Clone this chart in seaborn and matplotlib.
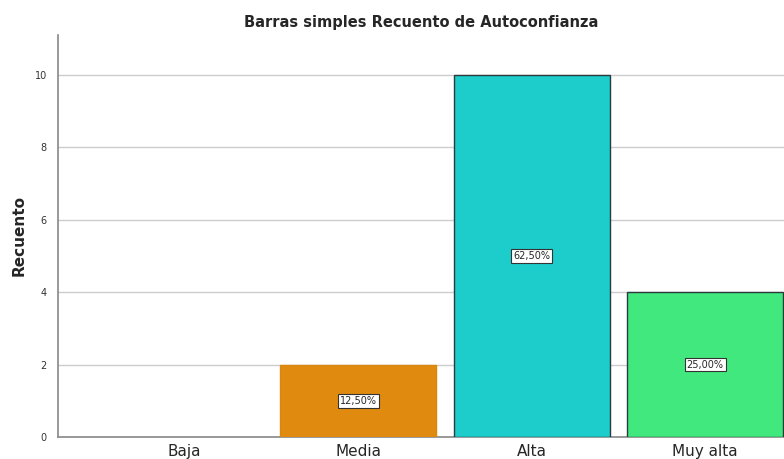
import matplotlib
matplotlib.use('Agg')
import matplotlib.pyplot as plt
import seaborn as sns
import pandas as pd

# -- data ----
categorias = ['Baja', 'Media', 'Alta', 'Muy alta']
recuento = [0, 2, 10, 4]
porcentajes = ['', '12,50%', '62,50%', '25,00%']
colores = ['#ffffff', '#e08b10', '#1ccdcb', '#41e87e']
bordes = ['#ffffff', '#d9870f', '#2b3a3a', '#2b3a3a']

df = pd.DataFrame({'cat': categorias, 'n': recuento})

sns.set_style('white')
plt.rcParams['font.family'] = ['DejaVu Sans']

fig = plt.figure(figsize=(7.84, 4.59), dpi=100)
ax = fig.add_axes([0.074, 0.048, 0.926, 0.876])

sns.barplot(data=df, x='cat', y='n', hue='cat', palette=colores, legend=False,
            width=0.9, saturation=1, ax=ax, zorder=3)
for p, ec, v in zip(ax.patches, bordes, recuento):
    p.set_edgecolor(ec)
    p.set_linewidth(1.0 if v > 0 else 0)

# -- percent labels ----
for i, (v, t) in enumerate(zip(recuento, porcentajes)):
    if t:
        ax.text(i, v / 2, t, ha='center', va='center', fontsize=7, zorder=5,
                bbox=dict(boxstyle='square,pad=0.2', fc='white', ec='#333333', lw=0.8))

ax.set_xlim(-0.73, 3.455)
ax.set_ylim(0, 11.1)
ax.set_yticks([0, 2, 4, 6, 8, 10])
ax.yaxis.grid(True, color='#cccccc', lw=1, zorder=0)
ax.set_axisbelow(True)
for s in ['top', 'right']:
    ax.spines[s].set_visible(False)
for s in ['left', 'bottom']:
    ax.spines[s].set_color('#888888')
    ax.spines[s].set_linewidth(1.2)
ax.tick_params(axis='y', labelsize=7, length=0, pad=8, colors='#333333')
ax.tick_params(axis='x', labelsize=11, length=0, pad=5)
ax.set_xlabel('')
ax.set_ylabel('Recuento', fontsize=11, fontweight='bold', labelpad=6)
ax.set_title('Barras simples Recuento de Autoconfianza', fontsize=10.5,
             fontweight='bold', pad=6)

fig.savefig('out.png', dpi=100)
